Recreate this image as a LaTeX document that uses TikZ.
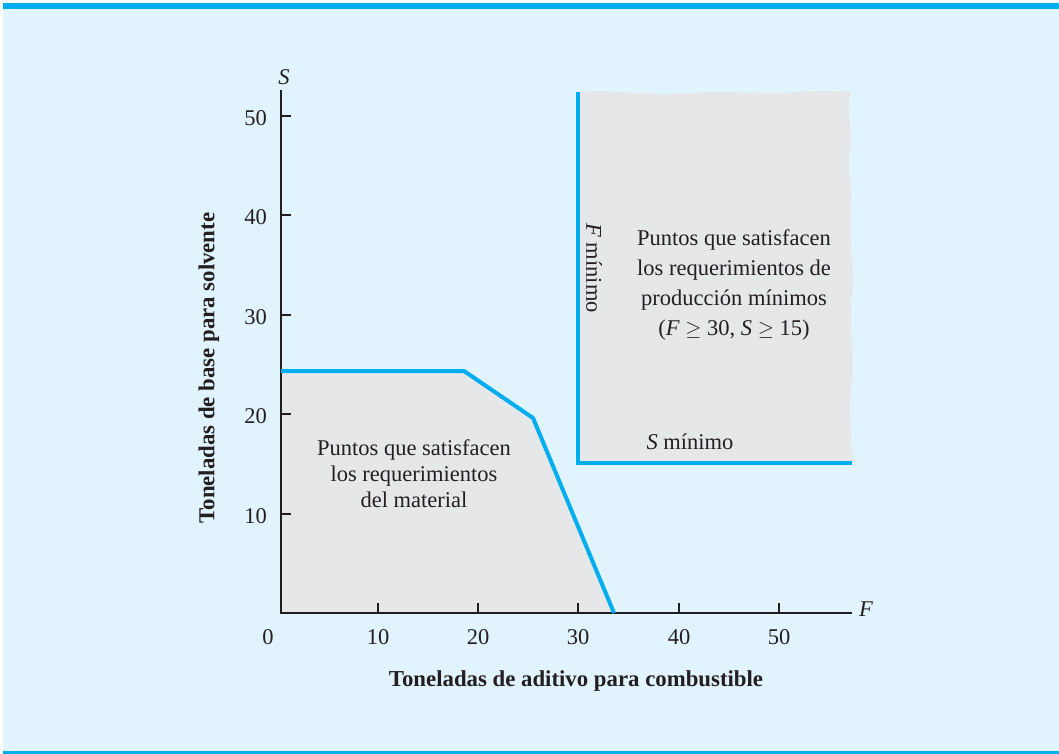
\documentclass[tikz,border=0pt]{standalone}
\usepackage{fontspec}
\setmainfont{Liberation Serif}
\begin{document}
\begin{tikzpicture}[x=1pt,y=-1pt,
  bluel/.style={draw=cyanbl,line width=4pt},
  axisl/.style={draw=axdark,line width=2pt},
  lbl/.style={font=\fontsize{22.5}{26}\selectfont,text=txtdark,inner sep=0pt},
  ttl/.style={font=\fontsize{22.8}{26}\selectfont\bfseries,text=txtdark,inner sep=0pt}]
\definecolor{cyanbl}{HTML}{00AEEF}
\definecolor{bgblue}{HTML}{E1F3FC}
\definecolor{regiongray}{HTML}{E6E7E8}
\definecolor{axdark}{HTML}{231F20}
\definecolor{txtdark}{HTML}{231F20}
\useasboundingbox (0,0) rectangle (1059,754);
\fill[white] (0,0) rectangle (1059,754);
\fill[bgblue] (3,4) rectangle (1059,751);
\fill[cyanbl] (3,3.5) rectangle (1059,9.5);
\fill[cyanbl] (3,750.5) rectangle (1059,754);
% material region
\coordinate (o) at (281,613);
\coordinate (m1) at (281,371);
\coordinate (m2) at (464,371);
\coordinate (m3) at (533,418);
\coordinate (m4) at (614,613);
\fill[regiongray] (o) -- (m1) -- (m2) -- (m3) -- (m4) -- cycle;
% production region
\coordinate (p1) at (578,92);
\coordinate (p2) at (578,463);
\coordinate (p3) at (852,463);
\fill[regiongray] (p1) .. controls (620,90) and (650,96) .. (690,93)
  .. controls (730,90) and (760,95) .. (800,92) .. controls (830,90) and (845,92) .. (851,92)
  .. controls (846,105) and (852,125) .. (850,145) .. controls (846,165) and (853,185) .. (851,210)
  .. controls (848,240) and (855,265) .. (852,295) .. controls (849,330) and (855,360) .. (851,390)
  .. controls (848,420) and (853,445) .. (852,463) -- (p2) -- cycle;
% axes
\draw[axisl] (281,90) -- (o) -- (852,613);
\foreach \i/\x in {1/378,2/478,3/578,4/679,5/779}{
  \draw[axisl] (\x,613) -- (\x,603);
}
\foreach \i/\y in {1/514,2/414,3/315,4/215,5/116}{
  \draw[axisl] (281,\y) -- (291,\y);
}
% tick labels
\node[lbl] (t0) at (268,637) {0};
\node[lbl] (t10) at (378,637) {10};
\node[lbl] (t20) at (478,637) {20};
\node[lbl] (t30) at (578,637) {30};
\node[lbl] (t40) at (679,637) {40};
\node[lbl] (t50) at (779,637) {50};
\node[lbl,anchor=east] (s10) at (267,516) {10};
\node[lbl,anchor=east] (s20) at (267,416) {20};
\node[lbl,anchor=east] (s30) at (267,317) {30};
\node[lbl,anchor=east] (s40) at (267,217) {40};
\node[lbl,anchor=east] (s50) at (267,118) {50};
\node[lbl] (Flab) at (866,609) {\textit{F}};
\node[lbl] (Slab) at (284,77) {\textit{S}};
% constraint lines
\draw[bluel,line join=miter] (m1) -- (m2) -- (m3) -- (m4);
\draw[bluel,line join=miter] (p1) -- (p2) -- (p3);
% labels
\node[lbl,align=center,font=\fontsize{22.5}{26}\selectfont] (mat) at (414,474) {Puntos que satisfacen\\los requerimientos\\del material};
\node[lbl,align=center,font=\fontsize{22.5}{29.7}\selectfont] (prod) at (734,285) {Puntos que satisfacen\\los requerimientos de\\producción mínimos\\(\textit{F} $\geq$ 30, \textit{S} $\geq$ 15)};
\node[lbl,rotate=-90] (fmin) at (594,268) {\textit{F} mínimo};
\node[lbl] (smin) at (690,442) {\textit{S} mínimo};
\node[ttl] (xt) at (576,681) {Toneladas de aditivo para combustible};
\node[ttl,rotate=90] (yt) at (209,368) {Toneladas de base para solvente};
\end{tikzpicture}
\end{document}
